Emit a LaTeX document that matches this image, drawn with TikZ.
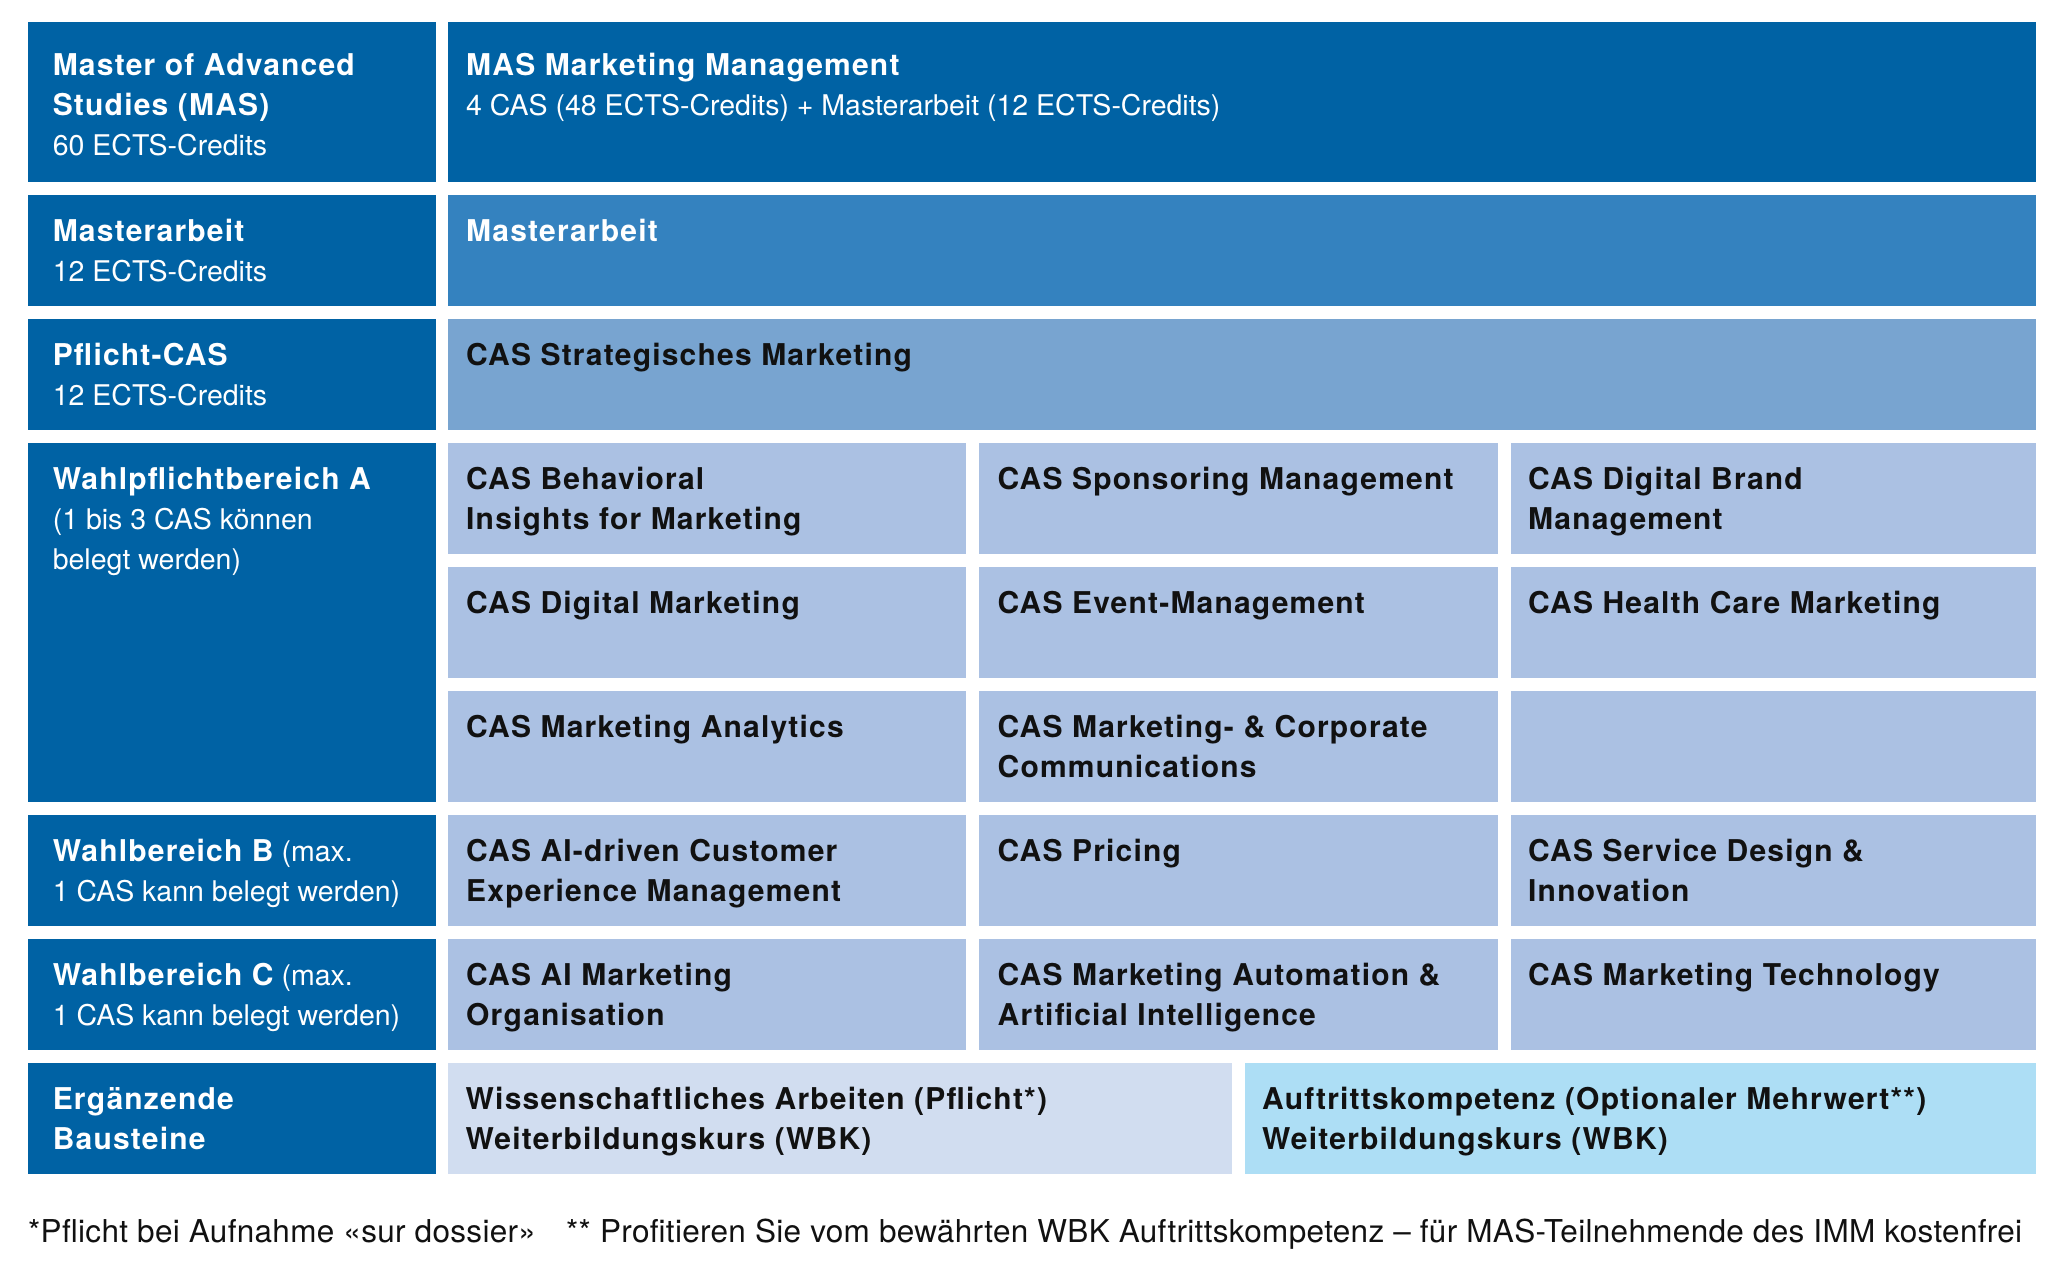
\documentclass[tikz,border=0pt]{standalone}
\usepackage{fontspec}
\setmainfont{TeX Gyre Heros}
\newfontfamily\boldf[LetterSpace=4]{TeX Gyre Heros}
\newfontfamily\footf[LetterSpace=1]{TeX Gyre Heros}
\definecolor{dkblue}{HTML}{0062A4}
\definecolor{mdblue}{HTML}{3482BF}
\definecolor{ltblue}{HTML}{78A4D0}
\definecolor{casblue}{HTML}{ABC1E3}
\definecolor{paleblue}{HTML}{D1DDF0}
\definecolor{cyanblue}{HTML}{ADDEF5}
\definecolor{txtblack}{HTML}{111111}
\newcommand\cellB{\boldf\bfseries\fontsize{30}{40}\selectfont\rule{0pt}{24pt}}
\newcommand\cellR{\normalfont\fontsize{28.5}{40}\selectfont}
\newcommand\inlR{\normalfont\fontsize{28.5}{40}\selectfont}
\tikzset{
  cellbox/.style={draw=none, inner sep=0pt, outer sep=0pt, anchor=north west},
  wtxt/.style={inner sep=0pt, anchor=north west, align=left, text=white, font=\fontsize{30}{40}\selectfont},
  btxt/.style={inner sep=0pt, anchor=north west, align=left, text=txtblack, font=\fontsize{30}{40}\selectfont},
  foot/.style={inner sep=0pt, anchor=base west, text=txtblack, font=\footf\fontsize{31.5}{36}\selectfont},
}
\begin{document}
\begin{tikzpicture}[x=1pt,y=-1pt]
\useasboundingbox[fill=white] (0,0) rectangle (2064,1268);
% ---------- left column
\node[cellbox, fill=dkblue, minimum width=408pt, minimum height=159.2pt] (l1) at (27.6,22.4) {};
\node[cellbox, fill=dkblue, minimum width=408pt, minimum height=111pt] (l2) at (27.6,194.8) {};
\node[cellbox, fill=dkblue, minimum width=408pt, minimum height=111pt] (l3) at (27.6,318.8) {};
\node[cellbox, fill=dkblue, minimum width=408pt, minimum height=359pt] (l4) at (27.6,442.8) {};
\node[cellbox, fill=dkblue, minimum width=408pt, minimum height=111pt] (l5) at (27.6,814.8) {};
\node[cellbox, fill=dkblue, minimum width=408pt, minimum height=111pt] (l6) at (27.6,938.8) {};
\node[cellbox, fill=dkblue, minimum width=408pt, minimum height=111pt] (l7) at (27.6,1062.8) {};
% ---------- wide rows
\node[cellbox, fill=dkblue, minimum width=1588.5pt, minimum height=159.2pt] (r1) at (447.5,22.4) {};
\node[cellbox, fill=mdblue, minimum width=1588.5pt, minimum height=111pt] (r2) at (447.5,194.8) {};
\node[cellbox, fill=ltblue, minimum width=1588.5pt, minimum height=111pt] (r3) at (447.5,318.8) {};
% ---------- CAS grid
\foreach \rn/\ry in {a/442.8, b/566.8, c/690.8, d/814.8, e/938.8}{
  \node[cellbox, fill=casblue, minimum width=518.5pt, minimum height=111pt] (\rn1) at (447.5,\ry) {};
  \node[cellbox, fill=casblue, minimum width=519pt, minimum height=111pt] (\rn2) at (979,\ry) {};
  \node[cellbox, fill=casblue, minimum width=525pt, minimum height=111pt] (\rn3) at (1511,\ry) {};
}
% ---------- bottom row
\node[cellbox, fill=paleblue, minimum width=784.5pt, minimum height=111pt] (f1) at (447.5,1062.8) {};
\node[cellbox, fill=cyanblue, minimum width=791pt, minimum height=111pt] (f2) at (1245,1062.8) {};

% ---------- left texts
\node[wtxt] (tl1) at ([xshift=25pt,yshift=-29pt]l1.north west) {\cellB Master of Advanced\\\cellB Studies (MAS)\\\cellR 60 ECTS-Credits};
\node[wtxt] (tl2) at ([xshift=25pt,yshift=-22pt]l2.north west) {\cellB Masterarbeit\\\cellR 12 ECTS-Credits};
\node[wtxt] (tl3) at ([xshift=25pt,yshift=-22pt]l3.north west) {\cellB Pflicht-CAS\\\cellR 12 ECTS-Credits};
\node[wtxt] (tl4) at ([xshift=25pt,yshift=-22pt]l4.north west) {\cellB Wahlpflichtbereich A\\\cellR (1 bis 3 CAS können\\\cellR belegt werden)};
\node[wtxt] (tl5) at ([xshift=25pt,yshift=-22pt]l5.north west) {\cellB Wahlbereich B\inlR{} (max.\\\cellR 1 CAS kann belegt werden)};
\node[wtxt] (tl6) at ([xshift=25pt,yshift=-22pt]l6.north west) {\cellB Wahlbereich C\inlR{} (max.\\\cellR 1 CAS kann belegt werden)};
\node[wtxt] (tl7) at ([xshift=25pt,yshift=-22pt]l7.north west) {\cellB Ergänzende\\\cellB Bausteine};

% ---------- right texts
\node[wtxt] (tr1) at ([xshift=18.5pt,yshift=-29pt]r1.north west) {\cellB MAS Marketing Management\\\cellR 4 CAS (48 ECTS-Credits) + Masterarbeit (12 ECTS-Credits)};
\node[wtxt] (tr2) at ([xshift=18.5pt,yshift=-22pt]r2.north west) {\cellB Masterarbeit};
\node[btxt] (tr3) at ([xshift=18.5pt,yshift=-22pt]r3.north west) {\cellB CAS Strategisches Marketing};

\node[btxt] (ta1) at ([xshift=18.5pt,yshift=-22pt]a1.north west) {\cellB CAS Behavioral\\\cellB Insights for Marketing};
\node[btxt] (ta2) at ([xshift=18.5pt,yshift=-22pt]a2.north west) {\cellB CAS Sponsoring Management};
\node[btxt] (ta3) at ([xshift=17pt,yshift=-22pt]a3.north west) {\cellB CAS Digital Brand\\\cellB Management};

\node[btxt] (tb1) at ([xshift=18.5pt,yshift=-22pt]b1.north west) {\cellB CAS Digital Marketing};
\node[btxt] (tb2) at ([xshift=18.5pt,yshift=-22pt]b2.north west) {\cellB CAS Event-Management};
\node[btxt] (tb3) at ([xshift=17pt,yshift=-22pt]b3.north west) {\cellB CAS Health Care Marketing};

\node[btxt] (tc1) at ([xshift=18.5pt,yshift=-22pt]c1.north west) {\cellB CAS Marketing Analytics};
\node[btxt] (tc2) at ([xshift=18.5pt,yshift=-22pt]c2.north west) {\cellB CAS Marketing- \& Corporate\\\cellB Communications};

\node[btxt] (td1) at ([xshift=18.5pt,yshift=-22pt]d1.north west) {\cellB CAS AI-driven Customer\\\cellB Experience Management};
\node[btxt] (td2) at ([xshift=18.5pt,yshift=-22pt]d2.north west) {\cellB CAS Pricing};
\node[btxt] (td3) at ([xshift=17pt,yshift=-22pt]d3.north west) {\cellB CAS Service Design \&\\\cellB Innovation};

\node[btxt] (te1) at ([xshift=18.5pt,yshift=-22pt]e1.north west) {\cellB CAS AI Marketing\\\cellB Organisation};
\node[btxt] (te2) at ([xshift=18.5pt,yshift=-22pt]e2.north west) {\cellB CAS Marketing Automation \&\\\cellB Artificial Intelligence};
\node[btxt] (te3) at ([xshift=17pt,yshift=-22pt]e3.north west) {\cellB CAS Marketing Technology};

\node[btxt] (tf1) at ([xshift=18pt,yshift=-22pt]f1.north west) {\cellB Wissenschaftliches Arbeiten (Pflicht*)\\\cellB Weiterbildungskurs (WBK)};
\node[btxt] (tf2) at ([xshift=17pt,yshift=-22pt]f2.north west) {\cellB Auftrittskompetenz (Optionaler Mehrwert**)\\\cellB Weiterbildungskurs (WBK)};

% ---------- footnotes
\node[foot] (fn1) at (28,1242) {*Pflicht bei Aufnahme «sur dossier»};
\node[foot] (fn2) at (566,1242) {** Profitieren Sie vom bewährten WBK Auftrittskompetenz – für MAS-Teilnehmende des IMM kostenfrei};
\end{tikzpicture}
\end{document}
